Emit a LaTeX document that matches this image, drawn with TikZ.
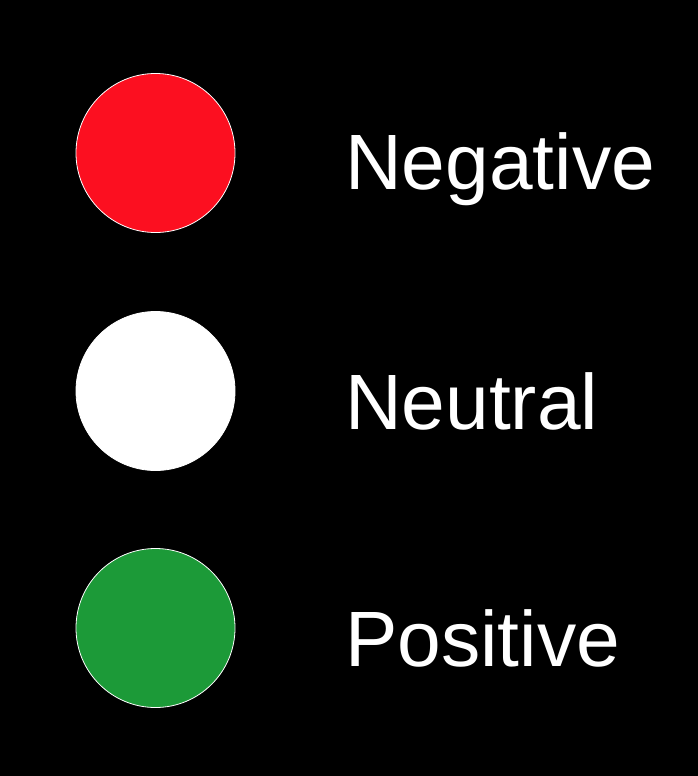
\documentclass[tikz,border=0pt]{standalone}
\usepackage{fontspec}
\setmainfont{Liberation Sans}
\definecolor{negred}{RGB}{252,15,32}
\definecolor{posgreen}{RGB}{28,154,56}
\begin{document}
\begin{tikzpicture}[x=1pt,y=-1pt,
  dot/.style={circle,draw=white,line width=0.8pt,minimum size=159pt,inner sep=0pt},
  lbl/.style={anchor=base west,text=white,inner sep=0pt,font=\fontsize{78.5}{78.5}\selectfont}]
\fill[black] (0,0) rectangle (698,776);
\useasboundingbox (0,0) rectangle (698,776);
\node[dot,fill=negred] (neg) at (155.5,153) {};
\node[dot,fill=white] (neu) at (155.5,391) {};
\node[dot,fill=posgreen] (pos) at (155.5,628) {};
\node[lbl] (tneg) at (345,189) {Negative};
\node[lbl] (tneu) at (345,429) {Neutral};
\node[lbl] (tpos) at (345,666) {Positive};
\end{tikzpicture}
\end{document}
